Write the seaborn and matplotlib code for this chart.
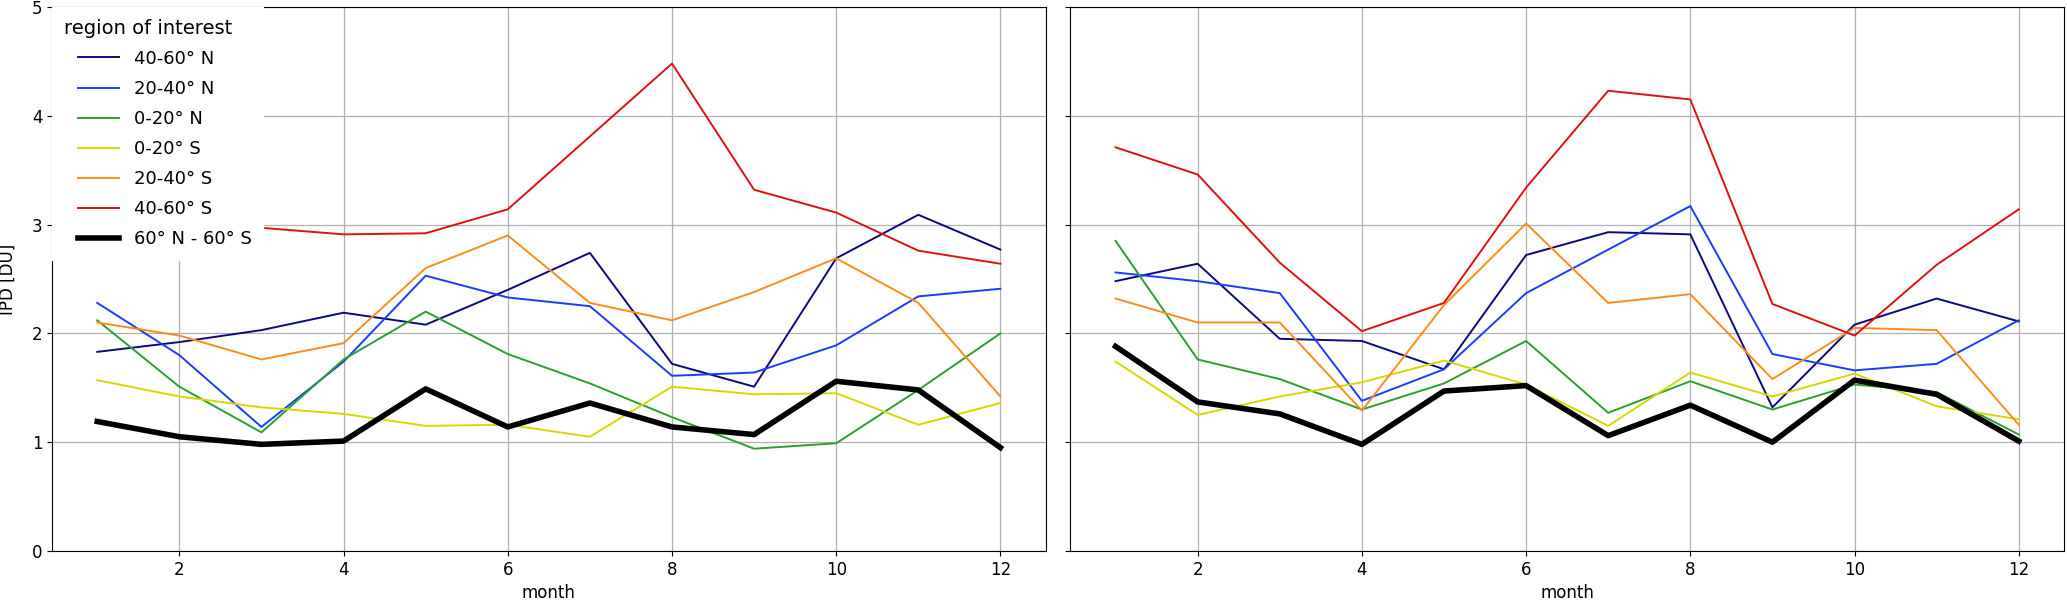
import numpy as np
import pandas as pd
import matplotlib
matplotlib.use('Agg')
import matplotlib.pyplot as plt
from matplotlib.lines import Line2D
from matplotlib.legend_handler import HandlerLine2D
import seaborn as sb

months = list(range(1, 13))
regions = ['40-60° N', '20-40° N', '0-20° N', '0-20° S', '20-40° S', '40-60° S', '60° N - 60° S']
colors = ['#0a0a80', '#1a3cff', '#2ca02c', '#d8d800', '#ff8c1a', '#e01010', '#000000']
widths = [1.4, 1.4, 1.4, 1.4, 1.4, 1.4, 4.0]

# left panel
left_n4060 = [1.83, 1.92, 2.03, 2.19, 2.08, 2.40, 2.74, 1.72, 1.51, 2.69, 3.09, 2.77]
left_n2040 = [2.28, 1.80, 1.14, 1.74, 2.53, 2.33, 2.25, 1.61, 1.64, 1.89, 2.34, 2.41]
left_n0020 = [2.12, 1.51, 1.09, 1.76, 2.20, 1.81, 1.54, 1.23, 0.94, 0.99, 1.48, 2.00]
left_s0020 = [1.57, 1.42, 1.32, 1.26, 1.15, 1.16, 1.05, 1.51, 1.44, 1.45, 1.16, 1.36]
left_s2040 = [2.10, 1.98, 1.76, 1.91, 2.60, 2.90, 2.28, 2.12, 2.38, 2.69, 2.28, 1.42]
left_s4060 = [3.05, 3.00, 2.97, 2.91, 2.92, 3.14, 3.81, 4.48, 3.32, 3.11, 2.76, 2.64]
left_all = [1.19, 1.05, 0.98, 1.01, 1.49, 1.14, 1.36, 1.14, 1.07, 1.56, 1.48, 0.95]

# right panel
right_n4060 = [2.48, 2.64, 1.95, 1.93, 1.67, 2.72, 2.93, 2.91, 1.32, 2.08, 2.32, 2.11]
right_n2040 = [2.56, 2.48, 2.37, 1.38, 1.67, 2.37, 2.77, 3.17, 1.81, 1.66, 1.72, 2.12]
right_n0020 = [2.85, 1.76, 1.58, 1.30, 1.54, 1.93, 1.27, 1.56, 1.30, 1.53, 1.46, 1.07]
right_s0020 = [1.74, 1.25, 1.42, 1.55, 1.75, 1.53, 1.15, 1.64, 1.42, 1.63, 1.33, 1.21]
right_s2040 = [2.32, 2.10, 2.10, 1.29, 2.26, 3.01, 2.28, 2.36, 1.58, 2.05, 2.03, 1.16]
right_s4060 = [3.71, 3.46, 2.65, 2.02, 2.28, 3.34, 4.23, 4.15, 2.27, 1.98, 2.63, 3.14]
right_all = [1.88, 1.37, 1.26, 0.98, 1.47, 1.52, 1.06, 1.34, 1.00, 1.57, 1.44, 1.01]

left = [left_n4060, left_n2040, left_n0020, left_s0020, left_s2040, left_s4060, left_all]
right = [right_n4060, right_n2040, right_n0020, right_s0020, right_s2040, right_s4060, right_all]

plt.rcParams['font.size'] = 12

fig, axes = plt.subplots(1, 2, figsize=(20.67, 6.06), dpi=100, sharey=True)
plt.subplots_adjust(left=0.0252, right=0.9985, bottom=0.0908, top=0.9885, wspace=0.025)

for ax, panel in zip(axes, [left, right]):
    for name, vals, c, w in zip(regions, panel, colors, widths):
        df = pd.DataFrame({'month': months, 'IPD': vals})
        sb.lineplot(data=df, x='month', y='IPD', color=c, lw=w, label=name, ax=ax, legend=False)
    ax.grid(True, color='#b0b0b0', lw=0.9)
    ax.set_ylim(0, 5)
    ax.set_xlim(0.45, 12.55)
    ax.set_xticks([2, 4, 6, 8, 10, 12])
    ax.set_xlabel('month')
    ax.set_ylabel('')

axes[0].set_ylabel('IPD [DU]')
axes[0].yaxis.set_label_coords(-0.036, 0.5)

# legend entries are indented a bit relative to the title
leg = axes[0].legend(title='region of interest', loc='upper left', alignment='left',
                     borderaxespad=0, borderpad=0.65, fancybox=False, framealpha=1,
                     edgecolor='white', handlelength=3.08, handletextpad=0.78,
                     labelspacing=0.67, fontsize=13, title_fontsize=14,
                     handler_map={Line2D: HandlerLine2D(xpad=0.78)})

plt.savefig('out.png', dpi=100)
